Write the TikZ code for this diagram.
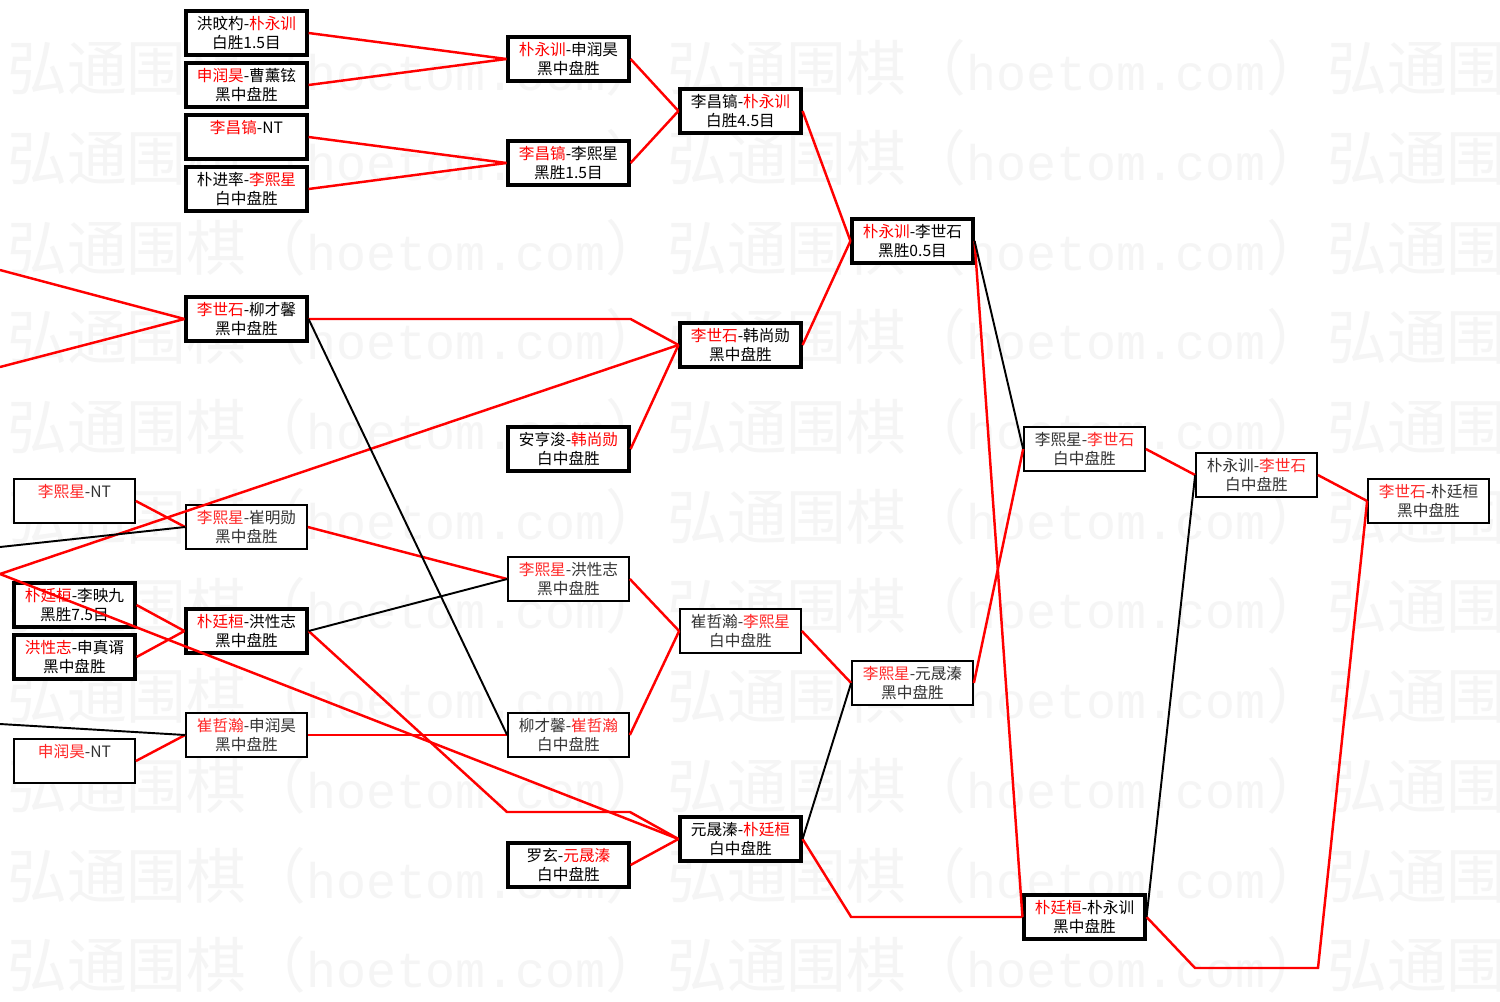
\documentclass[tikz,border=0pt]{standalone}
\usepackage{fontspec}
\setmainfont{Noto Sans CJK SC}
\newfontfamily\wmmono{Liberation Mono}
\usetikzlibrary{calc}
\newcommand{\hred}[1]{\textcolor{red}{#1}}
\newcommand{\lred}[1]{\textcolor{red!85}{#1}}

\begin{document}
\begin{tikzpicture}[
    x=0.02cm, y=-0.02cm,
    font=\fontsize{8.9pt}{10.8pt}\selectfont,
    box/.style={
        draw,
        line width=1.8pt,
        fill=white,
        minimum width=2.42cm,
        minimum height=0.88cm,
        inner sep=0pt,
        align=center
    },
    lbox/.style={box, line width=1pt, text=black!80},
    win/.style={draw=red, line width=1.4pt},
    loss/.style={draw=black, line width=1.1pt},
    wm/.style={anchor=west, inner sep=0pt, text=black!4,
        font=\fontsize{34pt}{36pt}\selectfont}
]
\useasboundingbox[fill=white] (0,0) rectangle (1500,1001);

\begin{scope}
\clip (0,0) rectangle (1500,1001);
\foreach \i in {0,...,10}
  \foreach \j in {0,1,2}
    \node[wm] (wm-\i-\j) at (7+660*\j, 68+89.7*\i)
      {弘通围棋（{\wmmono\fontsize{28.45pt}{30pt}\selectfont hoetom.com}）};
\end{scope}

\node[lbox] (a1) at (74.5,501) {\lred{李熙星}-NT\\\phantom{黑中盘胜}};
\node[box] (a2) at (74.5,605) {\hred{朴廷桓}-李映九\\黑胜7.5目};
\node[box] (a3) at (74.5,657) {\hred{洪性志}-申真谞\\黑中盘胜};
\node[lbox] (a4) at (74.5,761) {\lred{申润昊}-NT\\\phantom{黑中盘胜}};

\node[box] (b1) at (246.5,33) {洪旼杓-\hred{朴永训}\\白胜1.5目};
\node[box] (b2) at (246.5,85) {\hred{申润昊}-曹薰铉\\黑中盘胜};
\node[box] (b3) at (246.5,137) {\hred{李昌镐}-NT\\\phantom{黑中盘胜}};
\node[box] (b4) at (246.5,189) {朴进率-\hred{李熙星}\\白中盘胜};
\node[box] (b5) at (246.5,319) {\hred{李世石}-柳才馨\\黑中盘胜};
\node[lbox] (b6) at (246.5,527) {\lred{李熙星}-崔明勋\\黑中盘胜};
\node[box] (b7) at (246.5,631) {\hred{朴廷桓}-洪性志\\黑中盘胜};
\node[lbox] (b8) at (246.5,735) {\lred{崔哲瀚}-申润昊\\黑中盘胜};

\node[box] (c1) at (568.5,59) {\hred{朴永训}-申润昊\\黑中盘胜};
\node[box] (c2) at (568.5,163) {\hred{李昌镐}-李熙星\\黑胜1.5目};
\node[box] (c3) at (568.5,449) {安亨浚-\hred{韩尚勋}\\白中盘胜};
\node[lbox] (c4) at (568.5,579) {\lred{李熙星}-洪性志\\黑中盘胜};
\node[lbox] (c5) at (568.5,735) {柳才馨-\lred{崔哲瀚}\\白中盘胜};
\node[box] (c6) at (568.5,865) {罗玄-\hred{元晟溱}\\白中盘胜};

\node[box] (d1) at (740.5,111) {李昌镐-\hred{朴永训}\\白胜4.5目};
\node[box] (d2) at (740.5,345) {\hred{李世石}-韩尚勋\\黑中盘胜};
\node[lbox] (d3) at (740.5,631) {崔哲瀚-\lred{李熙星}\\白中盘胜};
\node[box] (d4) at (740.5,839) {元晟溱-\hred{朴廷桓}\\白中盘胜};

\node[box] (e1) at (912.5,241) {\hred{朴永训}-李世石\\黑胜0.5目};
\node[lbox] (e2) at (912.5,683) {\lred{李熙星}-元晟溱\\黑中盘胜};

\node[lbox] (f1) at (1084.5,449) {李熙星-\lred{李世石}\\白中盘胜};
\node[box] (f2) at (1084.5,917) {\hred{朴廷桓}-朴永训\\黑中盘胜};

\node[lbox] (g1) at (1256.5,475) {朴永训-\lred{李世石}\\白中盘胜};
\node[lbox] (h1) at (1428.5,501) {\lred{李世石}-朴廷桓\\黑中盘胜};

\coordinate (inA) at (0,270);
\coordinate (inB) at (0,367);
\coordinate (inC) at (0,547);
\coordinate (inD) at (0,574);
\coordinate (inE) at (0,724);

\draw[win] (b1.east) -- (c1.west);
\draw[win] (b2.east) -- (c1.west);
\draw[win] (b3.east) -- (c2.west);
\draw[win] (b4.east) -- (c2.west);
\draw[win] (c1.east) -- (d1.west);
\draw[win] (c2.east) -- (d1.west);
\draw[win] (d1.east) -- (e1.west);
\draw[win] (d2.east) -- (e1.west);
\draw[win] (inA) -- (b5.west);
\draw[win] (inB) -- (b5.west);
\draw[win] (b5.east) -- (b5.east -| c3.east) -- (d2.west);
\draw[win] (c3.east) -- (d2.west);
\draw[win] (inD) -- (d2.west);
\draw[win] (a1.east) -- (b6.west);
\draw[win] (b6.east) -- (c4.west);
\draw[win] (a2.east) -- (b7.west);
\draw[win] (a3.east) -- (b7.west);
\draw[win] (inD) -- (d4.west);
\draw[win] (b7.east) -- (507,812) -- (630,812) -- (d4.west);
\draw[win] (a4.east) -- (b8.west);
\draw[win] (b8.east) -- (c5.west);
\draw[win] (c4.east) -- (d3.west);
\draw[win] (c5.east) -- (d3.west);
\draw[win] (d3.east) -- (e2.west);
\draw[win] (c6.east) -- (d4.west);
\draw[win] (d4.east) -- (e2.west |- f2.west) -- (f2.west);
\draw[win] (e1.east) -- (f2.west);
\draw[win] (e2.east) -- (f1.west);
\draw[win] (f1.east) -- (g1.west);
\draw[win] (f2.east) -- (1195,968) -- (1318,968) -- (h1.west);
\draw[win] (g1.east) -- (h1.west);

\draw[loss] (inC) -- (b6.west);
\draw[loss] (inE) -- (b8.west);
\draw[loss] (b5.east) -- (c5.west);
\draw[loss] (b7.east) -- (c4.west);
\draw[loss] (d4.east) -- (e2.west);
\draw[loss] (e1.east) -- (f1.west);
\draw[loss] (f2.east) -- (g1.west);
\end{tikzpicture}
\end{document}
